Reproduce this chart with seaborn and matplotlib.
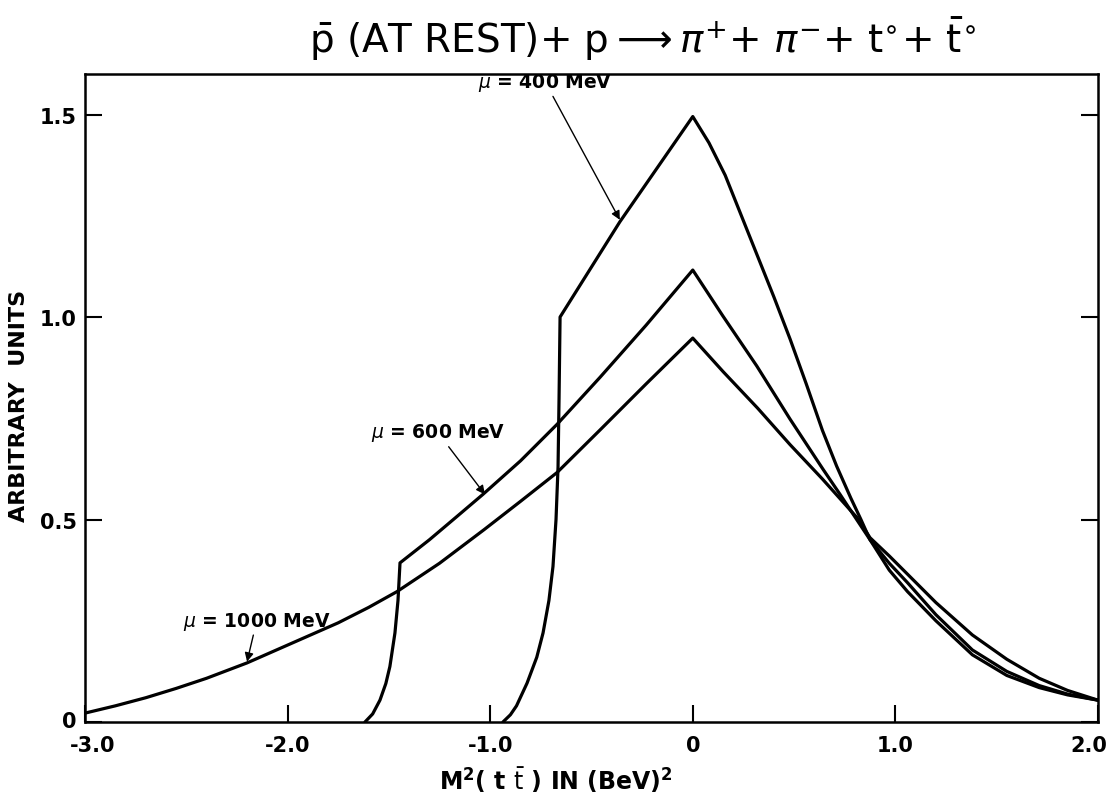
import numpy as np
import pandas as pd
import matplotlib
matplotlib.use("Agg")
import matplotlib.pyplot as plt
import matplotlib.transforms as mtransforms
import seaborn as sns

# ---- data ----
x_1000 = [-3.0, -2.85, -2.7, -2.55, -2.4, -2.2, -2.0, -1.75, -1.6, -1.46, -1.25, -1.03,
          -0.85, -0.67, -0.46, -0.23, 0.0, 0.15, 0.32, 0.48, 0.64, 0.81, 0.875, 0.97,
          1.06, 1.2, 1.38, 1.55, 1.71, 1.85, 2.0]
y_1000 = [0.022, 0.04, 0.06, 0.083, 0.108, 0.146, 0.19, 0.245, 0.283, 0.322, 0.392, 0.475,
          0.545, 0.616, 0.72, 0.835, 0.948, 0.865, 0.775, 0.685, 0.6, 0.505, 0.455, 0.41,
          0.365, 0.295, 0.215, 0.155, 0.108, 0.078, 0.054]

x_600 = [-1.618, -1.58, -1.544, -1.515, -1.495, -1.47, -1.455, -1.445, -1.3, -1.17, -1.036,
         -0.85, -0.67, -0.458, -0.23, 0.0, 0.148, 0.316, 0.48, 0.643, 0.727, 0.875, 0.97,
         1.06, 1.2, 1.38, 1.55, 1.71, 1.85, 2.0]
y_600 = [0.0, 0.02, 0.054, 0.095, 0.137, 0.22, 0.30, 0.393, 0.45, 0.505, 0.562,
         0.645, 0.735, 0.851, 0.98, 1.116, 1.003, 0.879, 0.748, 0.624, 0.562, 0.45, 0.392,
         0.344, 0.265, 0.178, 0.125, 0.09, 0.069, 0.054]

x_400 = [-0.937, -0.9, -0.87, -0.818, -0.77, -0.739, -0.71, -0.69, -0.675, -0.665, -0.66,
         -0.655, -0.36, 0.0, 0.08, 0.16, 0.24, 0.32, 0.40, 0.48, 0.56, 0.64, 0.71, 0.78,
         0.83, 0.875, 0.97, 1.06, 1.2, 1.38, 1.55, 1.71, 1.85, 2.0]
y_400 = [0.0, 0.018, 0.04, 0.096, 0.16, 0.22, 0.30, 0.384, 0.5, 0.63, 0.8,
         1.0, 1.235, 1.495, 1.43, 1.35, 1.25, 1.15, 1.05, 0.946, 0.835, 0.72, 0.632, 0.553,
         0.50, 0.45, 0.375, 0.322, 0.25, 0.166, 0.115, 0.085, 0.067, 0.054]

x_ticks = [-3.0, -2.0, -1.0, 0.0, 1.0, 2.0]
x_ticklabels = ["-3.0", "-2.0", "-1.0", "0", "1.0", "2.0"]
y_ticks = [0.0, 0.5, 1.0, 1.5]
y_ticklabels = ["0", "0.5", "1.0", "1.5"]

curves = {"1000": (x_1000, y_1000), "600": (x_600, y_600), "400": (x_400, y_400)}

frames = []
for name, (xs, ys) in curves.items():
    frames.append(pd.DataFrame({"x": xs, "y": ys, "mu": name}))
df = pd.concat(frames, ignore_index=True)

sns.set_theme(style="white")
plt.rcParams["font.family"] = ["DejaVu Sans"]
plt.rcParams["text.color"] = "black"
plt.rcParams["axes.labelcolor"] = "black"

fig = plt.figure(figsize=(11.12, 8.04), dpi=100)
ax = fig.add_axes([0.0764, 0.1007, 0.9110, 0.806])

for name in ["1000", "600", "400"]:
    sub = df[df["mu"] == name]
    sns.lineplot(data=sub, x="x", y="y", sort=False, estimator=None, color="black",
                 linewidth=2.3, ax=ax)

ax.set_xlim(-3.0, 2.0)
ax.set_ylim(0, 1.6)
ax.set_xticks(x_ticks)
ax.set_xticklabels(x_ticklabels)
ax.set_yticks(y_ticks)
ax.set_yticklabels(y_ticklabels)
ax.tick_params(axis="both", direction="in", length=12, width=1.5, labelsize=15,
               colors="black")
ax.tick_params(axis="x", pad=9, bottom=True, top=False)
ax.tick_params(axis="y", pad=6, right=True, left=True)
for lab in ax.get_xticklabels() + ax.get_yticklabels():
    lab.set_fontweight("bold")

# nudge edge labels inward like the reference
xl = ax.get_xticklabels()
xl[0].set_transform(xl[0].get_transform() + mtransforms.ScaledTranslation(8 / 100, 0, fig.dpi_scale_trans))
xl[-1].set_transform(xl[-1].get_transform() + mtransforms.ScaledTranslation(-9 / 100, 0, fig.dpi_scale_trans))
yl = ax.get_yticklabels()
yl[0].set_transform(yl[0].get_transform() + mtransforms.ScaledTranslation(0, 3 / 100, fig.dpi_scale_trans))

for s in ax.spines.values():
    s.set_visible(True)
    s.set_linewidth(1.8)
    s.set_color("black")

ax.set_xlabel(r"M$^{\mathbf{2}}$( t $\bar{\mathrm{t}}$ ) IN (BeV)$^{\mathbf{2}}$", fontsize=17,
              fontweight="bold", labelpad=4)
ax.xaxis.set_label_coords(0.465, -0.065)
ax.set_ylabel("ARBITRARY  UNITS", fontsize=16, fontweight="bold")
ax.yaxis.set_label_coords(-0.055, 0.49)

fig.text(0.578, 0.952,
         r"$\bar{\mathrm{p}}$ (AT REST)+ p$\longrightarrow\pi^{+}$+ $\pi^{-}$+ t$^{\circ}$+ $\bar{\mathrm{t}}^{\circ}$",
         ha="center", va="center", fontsize=28, color="black")

ann_kw = dict(fontsize=13.5, fontweight="bold", ha="left", va="center", color="black",
              arrowprops=dict(arrowstyle="-|>", color="black", lw=1.0, mutation_scale=13,
                              shrinkA=0, shrinkB=0))
ax.annotate(r"$\mu$ = 400 MeV", xy=(-0.36, 1.24), xytext=(-1.06, 1.58), **ann_kw)
ax.annotate(r"$\mu$ = 600 MeV", xy=(-1.026, 0.562), xytext=(-1.59, 0.715), **ann_kw)
ax.annotate(r"$\mu$ = 1000 MeV", xy=(-2.20, 0.149), xytext=(-2.516, 0.25), **ann_kw)

ax.set_facecolor("white")
fig.patch.set_facecolor("white")
fig.savefig("out.png", dpi=100)
